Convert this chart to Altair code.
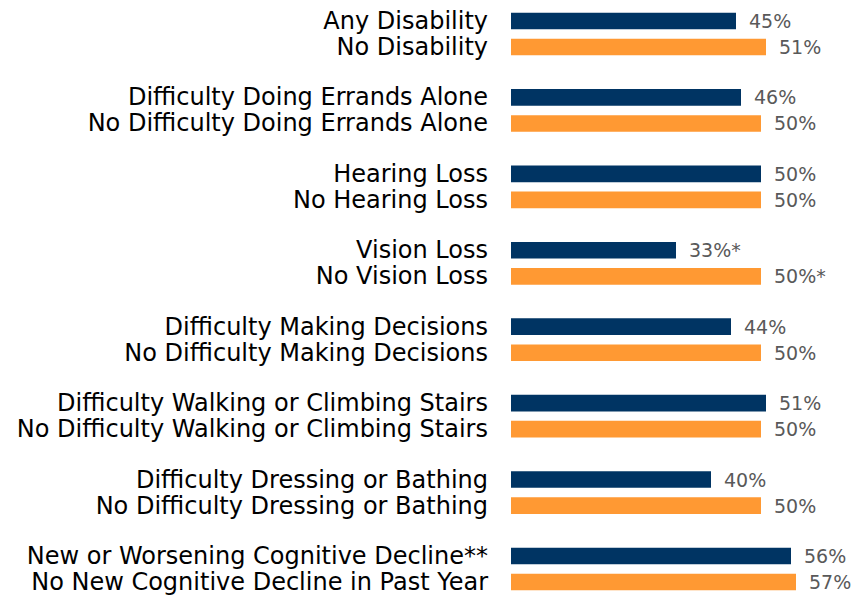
import altair as alt
import pandas as pd

groups = ["g1", "g2", "g3", "g4", "g5", "g6", "g7", "g8"]
labels_first = [
    "Any Disability",
    "Difficulty Doing Errands Alone",
    "Hearing Loss",
    "Vision Loss",
    "Difficulty Making Decisions",
    "Difficulty Walking or Climbing Stairs",
    "Difficulty Dressing or Bathing",
    "New or Worsening Cognitive Decline**",
]
labels_second = [
    "No Disability",
    "No Difficulty Doing Errands Alone",
    "No Hearing Loss",
    "No Vision Loss",
    "No Difficulty Making Decisions",
    "No Difficulty Walking or Climbing Stairs",
    "No Difficulty Dressing or Bathing",
    "No New Cognitive Decline in Past Year",
]
values_first = [45, 46, 50, 33, 44, 51, 40, 56]
values_second = [51, 50, 50, 50, 50, 50, 50, 57]
marks_first = ["", "", "", "*", "", "", "", ""]
marks_second = ["", "", "", "*", "", "", "", ""]

rows = []
for i, g in enumerate(groups):
    rows.append({"group": g, "status": "first", "label": labels_first[i],
                 "value": values_first[i], "vlabel": f"{values_first[i]}%{marks_first[i]}"})
    rows.append({"group": g, "status": "second", "label": labels_second[i],
                 "value": values_second[i], "vlabel": f"{values_second[i]}%{marks_second[i]}"})
df = pd.DataFrame(rows)

navy = "#003463"
orange = "#FF9933"

y_enc = alt.Y("group:N", sort=groups, axis=None,
              scale=alt.Scale(paddingInner=0.3188, paddingOuter=0))
yo_enc = alt.YOffset("status:N", sort=["first", "second"],
                     scale=alt.Scale(domain=["first", "second"], paddingInner=0.36, paddingOuter=0.18))

x_scale = alt.Scale(domain=[0, 68.2])

base = alt.Chart(df)

bars = base.mark_bar().encode(
    x=alt.X("value:Q", axis=None, scale=x_scale),
    y=y_enc,
    yOffset=yo_enc,
    color=alt.Color("status:N", scale=alt.Scale(domain=["first", "second"], range=[navy, orange]), legend=None),
)

vals = base.mark_text(align="left", baseline="middle", dx=13, dy=1, fontSize=19,
                      font="DejaVu Sans", color="#595959").encode(
    x=alt.X("value:Q", scale=x_scale),
    y=y_enc,
    yOffset=yo_enc,
    text="vlabel:N",
)

labels = base.mark_text(align="right", baseline="middle", dy=1, fontSize=24,
                        font="DejaVu Sans", color="#000000").encode(
    x=alt.value(-23),
    y=y_enc,
    yOffset=yo_enc,
    text="label:N",
)

chart = alt.layer(bars, vals, labels).properties(
    width=341,
    height=587,
    autosize=alt.AutoSizeParams(type="none"),
    padding={"left": 503, "top": 0, "right": 0, "bottom": 0},
).configure_view(stroke=None)

chart.save("out.html", embed_options={"renderer": "svg", "actions": False})
